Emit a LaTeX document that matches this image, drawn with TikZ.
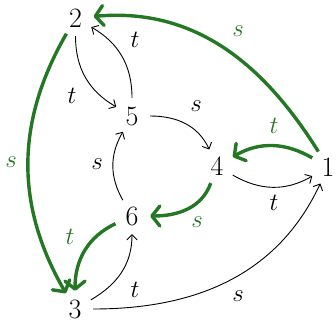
\documentclass[tikz,border=0pt]{standalone}
\usetikzlibrary{arrows.meta}
\definecolor{grn}{RGB}{36,120,36}
\begin{document}
\begin{tikzpicture}[x=1pt,y=1pt,
  vtx/.style={circle,inner sep=0pt,minimum size=36pt,font=\fontsize{28}{30}\selectfont},
  lbl/.style={inner sep=0pt,font=\fontsize{25}{27}\selectfont},
  glbl/.style={lbl,text=grn},
  thin edge/.style={line width=0.9pt,-{Straight Barb[length=5pt,width=10pt,line cap=round]}},
  thick edge/.style={draw=grn,line width=3.4pt,-{Straight Barb[length=8pt,width=20pt,line cap=round,line join=round]}}]
\useasboundingbox (0,0) rectangle (336,-323);
\node[vtx] (n2) at (75.5,-18) {2};
\node[vtx] (n5) at (132,-116) {5};
\node[vtx] (n4) at (217,-166) {4};
\node[vtx] (n1) at (328,-167) {1};
\node[vtx] (n6) at (132,-216) {6};
\node[vtx] (n3) at (75,-309) {3};
% black edges
\draw[thin edge] (n2) to[out=-90,in=150] (n5);
\draw[thin edge] (n5) to[out=90,in=-30] (n2);
\draw[thin edge] (n5) to[out=0,in=115] (n4);
\draw[thin edge] (n6) to[out=120,in=240] (n5);
\draw[thin edge] (n4) to[out=-30,in=210] (n1);
\draw[thin edge] (n3) to[out=30,in=-90] (n6);
\draw[thin edge] (n3) to[out=0,in=245] (n1);
% green edges
\draw[thick edge] (n1) to[out=122,in=5] (n2);
\draw[thick edge] (n1) to[out=150,in=30] (n4);
\draw[thick edge] (n4) to[out=250,in=0] (n6);
\draw[thick edge] (n6) to[out=205,in=90] (n3);
\draw[thick edge] (n2) to[out=240,in=120] (n3);
% labels
\node[lbl] (l25) at (72,-96) {$t$};
\node[lbl] (l52) at (135,-40) {$t$};
\node[lbl] (l54) at (196,-106) {$s$};
\node[lbl] (l65) at (97,-164) {$s$};
\node[lbl] (l41) at (274,-203) {$t$};
\node[lbl] (l36) at (135,-290) {$t$};
\node[lbl] (l31) at (238,-296) {$s$};
\node[glbl] (g12) at (238,-31) {$s$};
\node[glbl] (g14) at (274,-126) {$t$};
\node[glbl] (g46) at (197,-222) {$s$};
\node[glbl] (g63) at (70,-237) {$t$};
\node[glbl] (g23) at (11,-162) {$s$};
\end{tikzpicture}
\end{document}
